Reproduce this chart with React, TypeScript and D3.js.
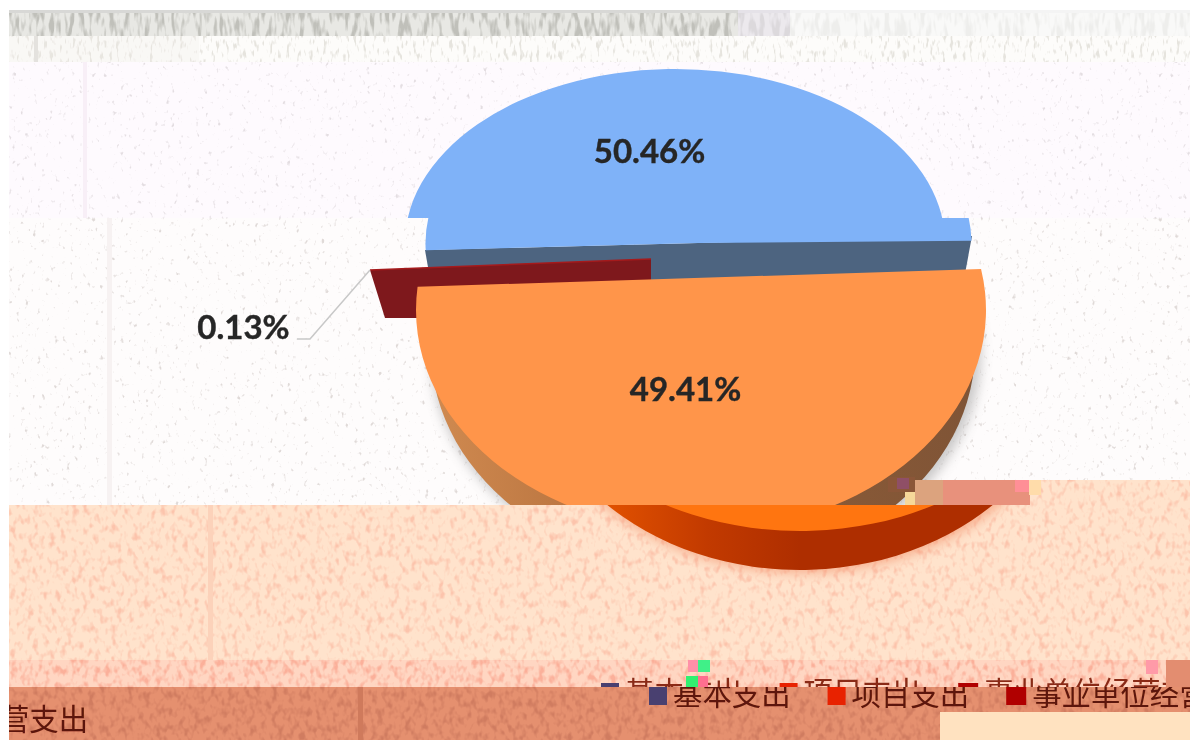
import React from "react";
import * as d3 from "d3";

const sliceNames = ["基本支出", "项目支出", "事业单位经营支出"];
const sliceShares = [50.46, 49.41, 0.13];
const sliceLabels = ["50.46%", "49.41%", "0.13%"];
const legendColors = ["#4a4070", "#e82000", "#b00000"];

const W = 1196, H = 740, L = 9, R = 1190;
const TAU = Math.PI * 2;
const rad = (deg: number) => (deg * Math.PI) / 180;

// Background strips of the broken image: y range, fill, speckle colour, speckle gain and threshold
const bands = [
  { id: "b0", y0: 10, y1: 13, fill: "#d8d8d6", speck: "#c8c8c6", k: 0, t: 0, fx: 0.2, fy: 0.1 },
  { id: "b1", y0: 13, y1: 36, fill: "#e8e8e4", speck: "#c0c0ba", k: 5, t: 0.46, fx: 0.2, fy: 0.05 },
  { id: "b2", y0: 36, y1: 62, fill: "#fdfcfa", speck: "#e6e4de", k: 6, t: 0.56, fx: 0.3, fy: 0.1 },
  { id: "b3", y0: 62, y1: 218, fill: "#fefafe", speck: "#e4dee2", k: 6, t: 0.66, fx: 0.24, fy: 0.18 },
  { id: "b4", y0: 218, y1: 505, fill: "#fefcfc", speck: "#e0dad8", k: 6, t: 0.66, fx: 0.24, fy: 0.18 },
  { id: "b5", y0: 505, y1: 660, fill: "#ffe3cc", speck: "#fcc4ac", k: 3.5, t: 0.5, fx: 0.18, fy: 0.12 },
  { id: "b6", y0: 660, y1: 687, fill: "#ffd6c2", speck: "#fbb09a", k: 3.5, t: 0.46, fx: 0.18, fy: 0.12 },
  { id: "b7", y0: 687, y1: 740, fill: "#e5906f", speck: "#d07c60", k: 3.5, t: 0.46, fx: 0.18, fy: 0.12 },
];

const pie = d3.pie<number>().sort(null).value((d) => d);
const [blueShareArc] = pie.startAngle(rad(-92.4)).endAngle(rad(-92.4) + TAU)(sliceShares);
// the tilted pie's rim is stretched: the drawn sweep of the orange slice is its share times this factor
const orangeStretch = 1.106;
const orangeStart = rad(79.3);
const orangeEnd = orangeStart + (sliceShares[1] / 100) * TAU * orangeStretch;

const blue = { ry: 174, cy: 243 };
const top3d = { cx: 701, cy: 310, rx: 285, ry: 221 };
const side3d = { cx: 703, cy: 349, rx: 272, ry: 221 };

// elliptical slice through the hub (or straight across its chord) as a scaled unit-circle path
function segmentPath(a0: number, a1: number, hub: boolean) {
  const p = d3.path();
  if (hub) p.moveTo(0, 0);
  p.arc(0, 0, 1000, a0 - Math.PI / 2, a1 - Math.PI / 2);
  p.closePath();
  return p.toString();
}

function Slice({ a0, a1, hub, cx, cy, rx, ry, fill, ...rest }: any) {
  return (
    <path
      d={segmentPath(a0, a1, !!hub)}
      transform={`translate(${cx},${cy}) scale(${rx / 1000},${ry / 1000})`}
      fill={fill}
      {...rest}
    />
  );
}

function Legend({ color }: { color?: string }) {
  let x = 649;
  const items = sliceNames.map((name, i) => {
    const sx = x;
    const tx = x + (i === 2 ? 26 : 24);
    x = tx + name.length * 29.4 + 37;
    return (
      <g key={name}>
        <rect x={sx} y={685} width={i === 2 ? 20 : 18} height={20} fill={legendColors[i]} />
        <text x={tx} y={705} fontSize={29.4} fill={color ?? "#5c1408"} fontFamily="'Noto Sans CJK SC'">
          {name}
        </text>
      </g>
    );
  });
  return <g>{items}</g>;
}

export default function App() {
  const clip = (id: string, x: number, y: number, w: number, h: number) => (
    <clipPath id={id}>
      <rect x={x} y={y} width={w} height={h} />
    </clipPath>
  );
  const blueProps = { a0: blueShareArc.startAngle, a1: blueShareArc.endAngle, hub: true, cy: blue.cy, ry: blue.ry, fill: "#7fb2f8" };
  const orangeAngles = { a0: orangeStart, a1: orangeEnd };
  return (
    <svg width={W} height={H} style={{ position: "fixed", left: 0, top: 0 }} fontFamily="Lato, 'Noto Sans', sans-serif">
      <defs>
        {bands.map((b) => {
          const c = d3.rgb(b.speck);
          return (
            <filter key={b.id} id={`n-${b.id}`} x="0" y="0" width="100%" height="100%" colorInterpolationFilters="sRGB">
              <feTurbulence type="fractalNoise" baseFrequency={`${b.fx} ${b.fy}`} numOctaves={2} seed={7} />
              <feColorMatrix
                values={`0 0 0 0 ${c.r / 255} 0 0 0 0 ${c.g / 255} 0 0 0 0 ${c.b / 255} ${b.k} 0 0 0 ${-b.k * b.t}`}
              />
            </filter>
          );
        })}
        <filter id="soft" x="-10%" y="-10%" width="120%" height="120%">
          <feGaussianBlur stdDeviation="6" />
        </filter>
        <filter id="textSoft" x="-5%" y="-5%" width="110%" height="110%">
          <feGaussianBlur stdDeviation="0.45" />
        </filter>
        <linearGradient id="sideA" x1="0" x2="1" y1="0" y2="0">
          <stop offset="0" stopColor="#d08a50" />
          <stop offset="0.3" stopColor="#b8733f" />
          <stop offset="0.6" stopColor="#8d5c38" />
          <stop offset="1" stopColor="#7f5436" />
        </linearGradient>
        <linearGradient id="sideB" x1="0" x2="1" y1="0" y2="0">
          <stop offset="0.15" stopColor="#e05000" />
          <stop offset="0.33" stopColor="#c23a00" />
          <stop offset="0.5" stopColor="#ae2e00" />
        </linearGradient>
        {clip("s1", L, 62, R - L, 156)}
        {clip("s2", L, 218, R - L, 287)}
        {clip("s3", L, 505, R - L, 155)}
        {clip("ghost", L, 660, R - L, 27)}
        {clip("row", L, 687, R - L, 25)}
        {clip("wrap", L, 687, R - L, 53)}
      </defs>
      <rect width={W} height={H} fill="#ffffff" />
      {bands.map((b) => (
        <g key={b.id}>
          <rect x={L} y={b.y0} width={R - L} height={b.y1 - b.y0} fill={b.fill} />
          {b.k > 0 && <rect x={L} y={b.y0} width={R - L} height={b.y1 - b.y0} filter={`url(#n-${b.id})`} />}
        </g>
      ))}
      {/* the top strip is paler on its right part */}
      <rect x={790} y={10} width={R - 790} height={26} fill="#ffffff" opacity={0.72} />
      <rect x={738} y={10} width={52} height={26} fill="#efeaf4" opacity={0.6} />
      <rect x={L} y={36} width={190} height={26} fill="#eeece6" opacity={0.25} />
      {/* offset image seams */}
      <rect x={34} y={36} width={4} height={26} fill="#e4e2de" />
      <rect x={83} y={62} width={4} height={156} fill="#f8eff7" />
      <rect x={107} y={218} width={5} height={287} fill="#f7f2f2" />
      <rect x={208} y={505} width={5} height={155} fill="#fcd2ba" />
      <rect x={358} y={687} width={5} height={53} fill="#cf7a5c" />
      <rect x={940} y={712} width={R - 940} height={28} fill="#ffe2c0" />

      {/* upper blue strip */}
      <g clipPath="url(#s1)">
        <Slice {...blueProps} cx={675} rx={270} />
      </g>

      {/* main strip */}
      <g clipPath="url(#s2)">
        <g filter="url(#soft)" opacity={0.45}>
          <Slice {...orangeAngles} cx={side3d.cx + 3} cy={side3d.cy + 4} rx={side3d.rx + 3} ry={side3d.ry} fill="#8a8a8a" />
        </g>
        <path
          d={d3.line()([
            [425, 250],
            [432, 290],
            [962, 290],
            [972, 236],
          ]) ?? ""}
          fill="#4d6480"
        />
        <Slice {...blueProps} cx={698.5} rx={273} />
      </g>
      <path
        d={(d3.line()([
          [370, 270],
          [651, 259],
          [651, 290],
          [420, 318],
          [385, 318],
        ]) ?? "") + "Z"}
        fill="#7e181c"
      />
      <path d={d3.line()([[370, 270], [651, 259]]) ?? ""} stroke="#a51a1c" strokeWidth={1.5} fill="none" />
      <g clipPath="url(#s2)">
        <Slice {...orangeAngles} {...side3d} fill="url(#sideA)" />
        <Slice {...orangeAngles} {...top3d} fill="#ff954a" />
      </g>

      {/* third strip background and patch that replaced the right end of the strip */}
      <rect x={915} y={480} width={R - 915} height={25} fill="#ffe3cc" />
      <rect x={915} y={480} width={R - 915} height={25} filter="url(#n-b5)" />
      <rect x={915} y={480} width={115} height={25} fill="#e8917c" />
      <rect x={915} y={480} width={28} height={25} fill="#dca37e" />
      <rect x={1015} y={480} width={14} height={12} fill="#ff8f96" />
      <rect x={1029} y={480} width={12} height={15} fill="#ffdcaa" />
      <rect x={888} y={477} width={27} height={15} fill="#8b5638" />
      <rect x={897} y={478} width={12} height={11} fill="#8f4f66" />
      <rect x={905} y={492} width={10} height={13} fill="#f6d89a" />

      {/* lower strip, displaced to the right */}
      <g clipPath="url(#s3)">
        <g filter="url(#soft)" opacity={0.5}>
          <Slice {...orangeAngles} cx={side3d.cx + 99} cy={side3d.cy + 3} rx={side3d.rx + 3} ry={side3d.ry} fill="#f07a50" />
        </g>
        <Slice {...orangeAngles} cx={side3d.cx + 97} cy={side3d.cy} rx={side3d.rx} ry={side3d.ry} fill="url(#sideB)" />
        <Slice {...orangeAngles} cx={top3d.cx + 99} cy={top3d.cy} rx={top3d.rx} ry={top3d.ry} fill="#ff7510" />
      </g>

      {/* labels */}
      <path
        d={d3.line()([[297, 339], [310, 339], [370, 270]]) ?? ""}
        fill="none"
        stroke="#c8c8c8"
        strokeWidth={1.5}
      />
      <g fontSize={33} fontWeight={700} fill="#262626" stroke="#262626" strokeWidth={0.4} textAnchor="middle" filter="url(#textSoft)">
        <text x={649.5} y={163}>{sliceLabels[0]}</text>
        <text x={685.5} y={401}>{sliceLabels[1]}</text>
        <text x={243.5} y={339}>{sliceLabels[2]}</text>
      </g>

      {/* legend, torn into strips */}
      <g filter="url(#textSoft)">
        <g clipPath="url(#ghost)">
          <g transform="translate(-48,-2)">
            <Legend color="#8a2c18" />
          </g>
        </g>
        <g clipPath="url(#row)">
          <Legend />
        </g>
        <g clipPath="url(#wrap)">
          <g transform="translate(-1179,25)">
            <text x={1032} y={705} fontSize={29.4} fill="#5c1408" fontFamily="'Noto Sans CJK SC'">
              {sliceNames[2]}
            </text>
          </g>
        </g>
      </g>
      <rect x={688} y={660} width={10} height={12} fill="#ff90a8" />
      <rect x={698} y={660} width={12} height={12} fill="#40f088" />
      <rect x={686} y={676} width={12} height={11} fill="#30f070" />
      <rect x={698} y={676} width={10} height={11} fill="#ff6f90" />
      <rect x={1146} y={660} width={12} height={14} fill="#ff9aa8" />
      <rect x={1166} y={660} width={24} height={27} fill="#e38d70" />
    </svg>
  );
}
